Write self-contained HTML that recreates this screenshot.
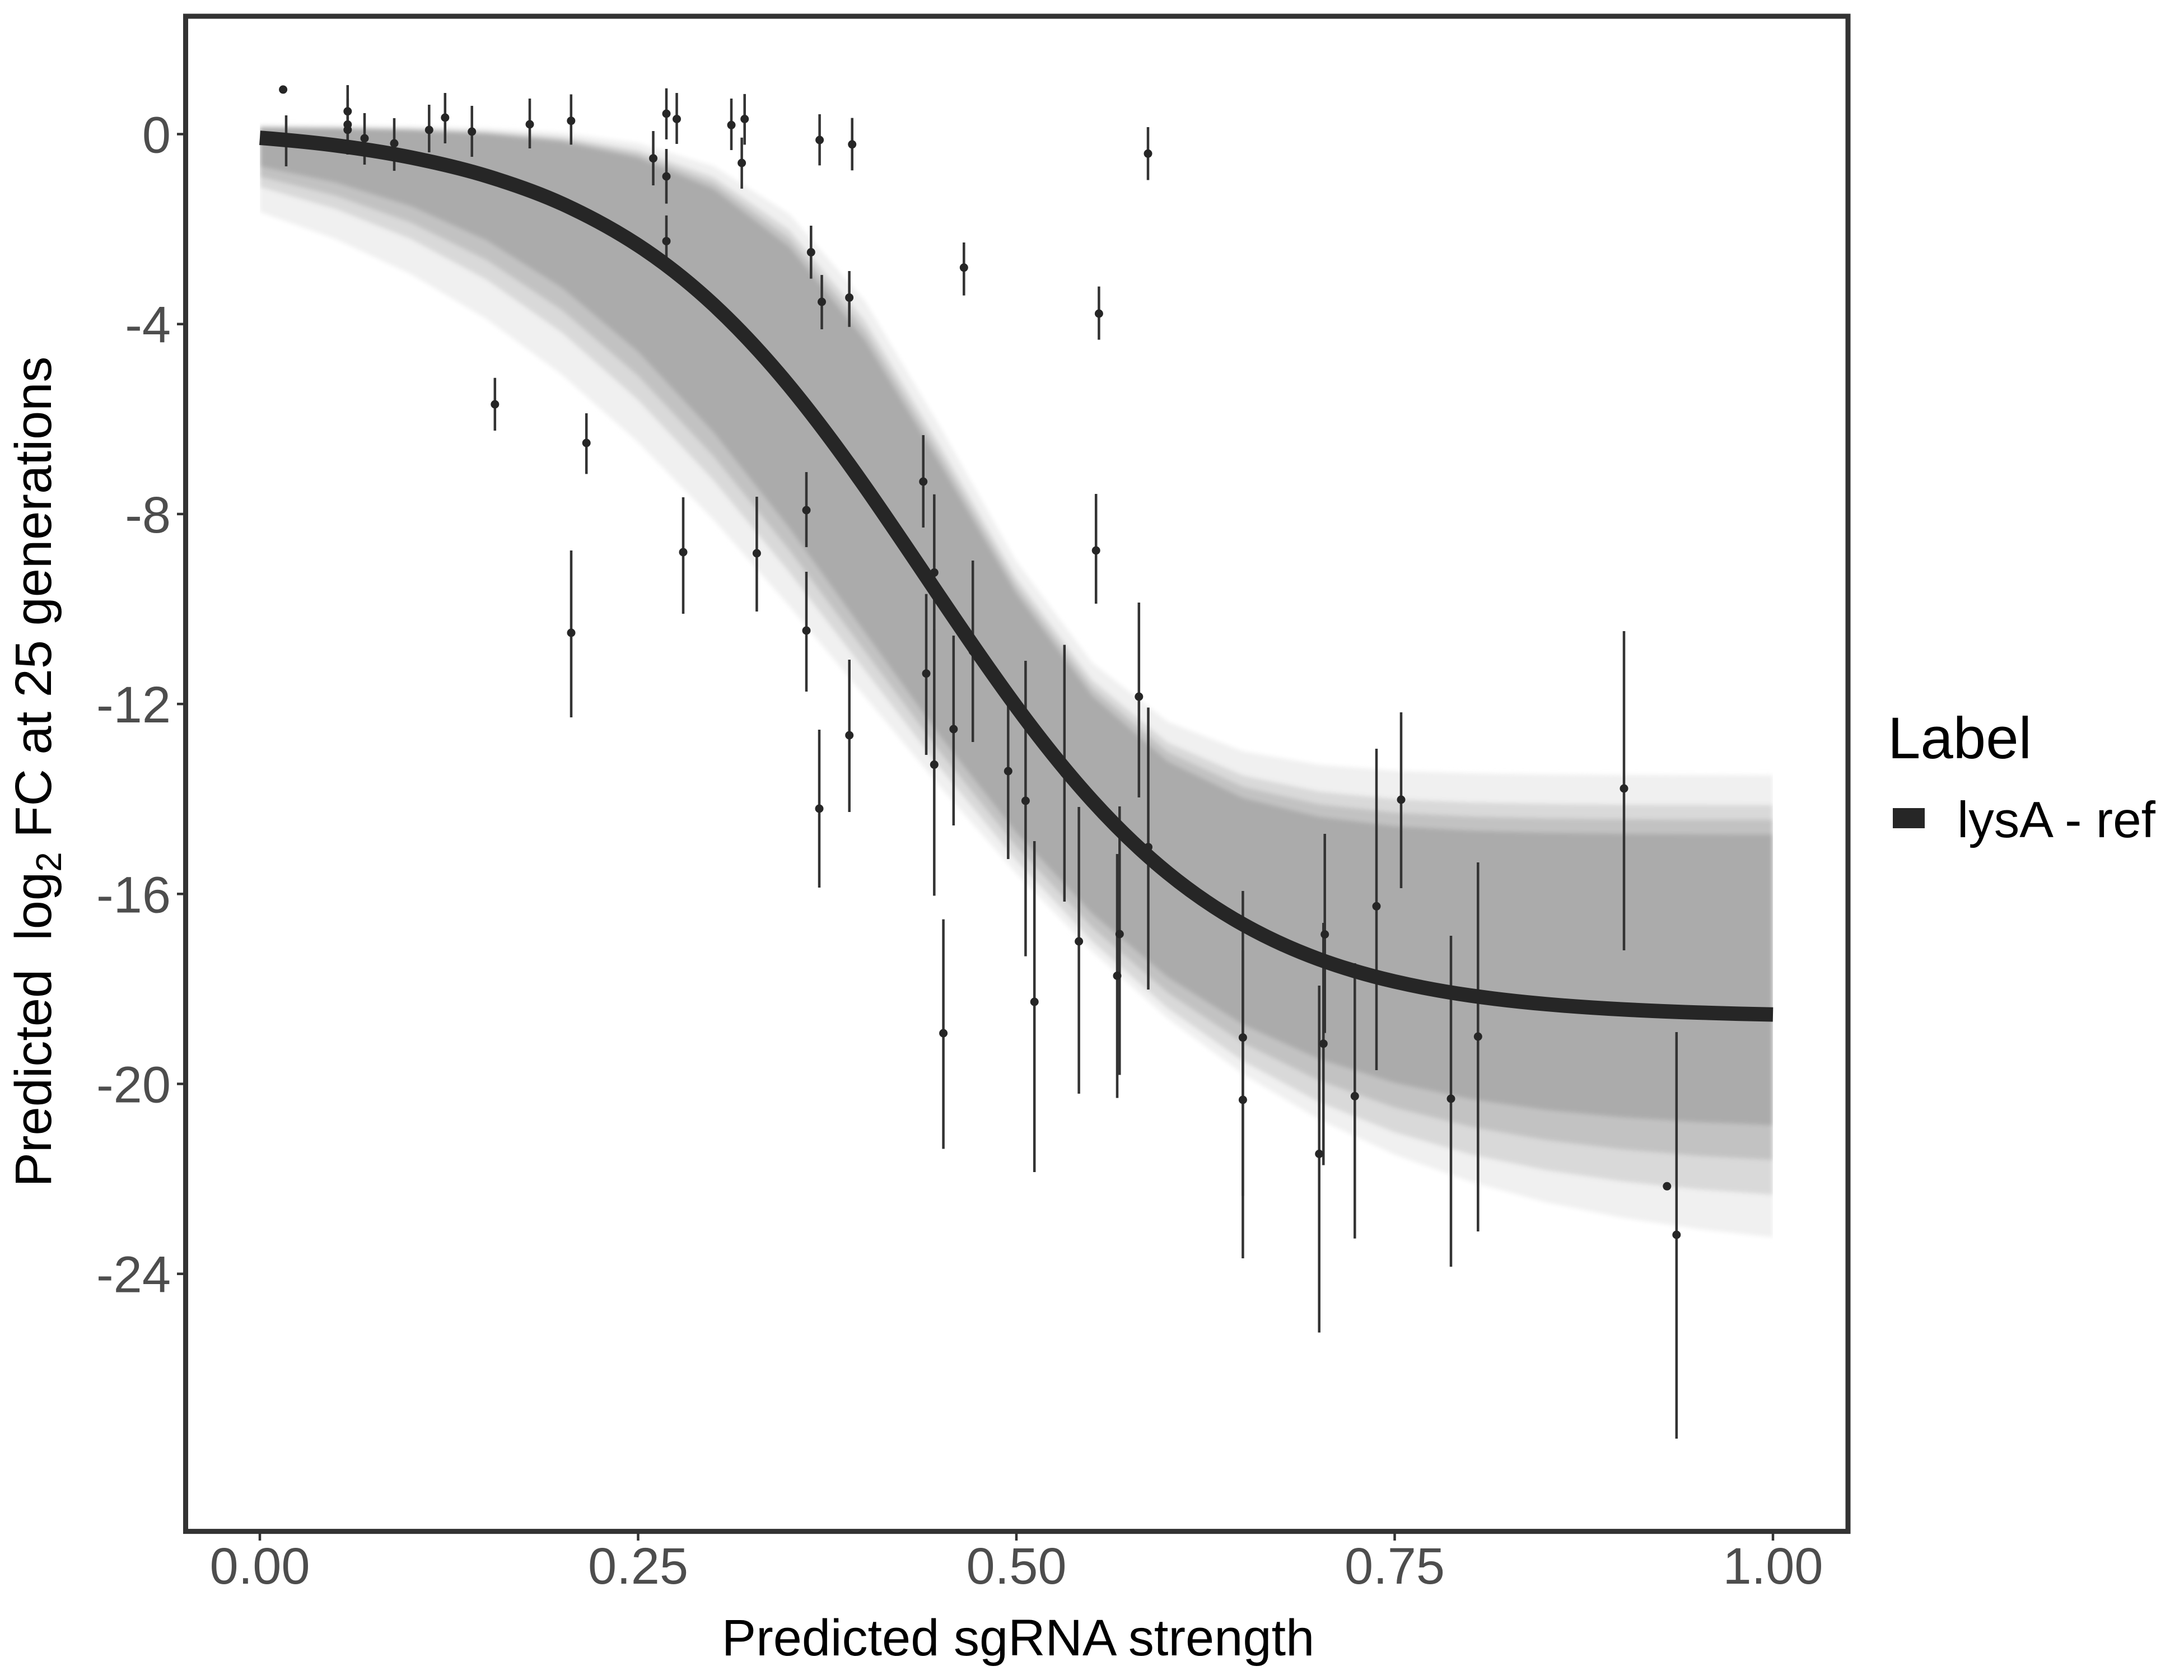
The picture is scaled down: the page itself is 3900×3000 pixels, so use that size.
<!DOCTYPE html>
<html>
<head>
<meta charset="utf-8">
<style>
  html, body { margin: 0; padding: 0; background: #ffffff; }
  svg { display: block; }
  text { font-family: "Liberation Sans", Arial, sans-serif; }
</style>
</head>
<body>
<svg width="3900" height="3000" viewBox="0 0 3900 3000" xmlns="http://www.w3.org/2000/svg">
  <defs>
    <clipPath id="clipX">
      <rect x="464" y="0" width="2702" height="3000"/>
    </clipPath>
    <filter id="soft" x="-5%" y="-5%" width="110%" height="110%">
      <feGaussianBlur stdDeviation="4"/>
    </filter>
  </defs>
  <rect x="0" y="0" width="3900" height="3000" fill="#ffffff"/>

  <g clip-path="url(#clipX)">
    <g filter="url(#soft)" transform="matrix(0.99448,0,0,0.99181,1.57,5.43)">
      <path fill="#F0F0F0" d="M465,219.4 L600.9,220.0 L736.7,221.6 L872.6,225.1 L1008.4,233.3 L1144.3,252.1 L1280.1,293.6 L1416,380.1 L1551.8,537.1 L1687.7,764.9 L1823.5,1005.2 L1959.4,1187.5 L2095.2,1294.1 L2231.1,1347.2 L2366.9,1371.4 L2502.8,1382.1 L2638.6,1386.7 L2774.5,1388.8 L2910.3,1389.6 L3046.2,1390.0 L3182,1390.2 L3182,2222.1 L3046.2,2207.2 L2910.3,2186.7 L2774.5,2159.2 L2638.6,2122.2 L2502.8,2073.4 L2366.9,2010.0 L2231.1,1929.0 L2095.2,1828.3 L1959.4,1707.3 L1823.5,1567.3 L1687.7,1412.4 L1551.8,1249.2 L1416,1086.1 L1280.1,931.0 L1144.3,791.1 L1008.4,670.0 L872.6,569.3 L736.7,488.3 L600.9,424.9 L465,376.1 Z"/>
      <path fill="#D9D9D9" d="M465,222.3 L600.9,223.3 L736.7,225.5 L872.6,230.4 L1008.4,241.2 L1144.3,264.5 L1280.1,313.2 L1416,408.5 L1551.8,571.8 L1687.7,798.6 L1823.5,1035.1 L1959.4,1218.9 L2095.2,1331.5 L2231.1,1390.8 L2366.9,1419.6 L2502.8,1433.0 L2638.6,1439.1 L2774.5,1441.8 L2910.3,1443.1 L3046.2,1443.7 L3182,1443.9 L3182,2145.8 L3046.2,2135.8 L2910.3,2121.7 L2774.5,2101.5 L2638.6,2073.1 L2502.8,2033.5 L2366.9,1978.9 L2231.1,1905.6 L2095.2,1810.0 L1959.4,1689.3 L1823.5,1544.1 L1687.7,1378.9 L1551.8,1202.2 L1416,1025.4 L1280.1,860.1 L1144.3,715.0 L1008.4,594.2 L872.6,498.5 L736.7,425.3 L600.9,370.8 L465,331.2 Z"/>
      <path fill="#C2C2C2" d="M465,223.4 L600.9,224.7 L736.7,227.4 L872.6,233.2 L1008.4,245.6 L1144.3,271.6 L1280.1,324.2 L1416,423.8 L1551.8,589.5 L1687.7,815.1 L1823.5,1049.1 L1959.4,1233.1 L2095.2,1348.5 L2231.1,1411.1 L2366.9,1442.4 L2502.8,1457.4 L2638.6,1464.5 L2774.5,1467.8 L2910.3,1469.3 L3046.2,1470.1 L3182,1470.4 L3182,2083.2 L3046.2,2075.4 L2910.3,2064.0 L2774.5,2047.4 L2638.6,2023.3 L2502.8,1988.9 L2366.9,1940.2 L2231.1,1872.8 L2095.2,1782.1 L1959.4,1664.4 L1823.5,1519.0 L1687.7,1350.3 L1551.8,1168.0 L1416,985.6 L1280.1,816.8 L1144.3,671.6 L1008.4,553.8 L872.6,463.1 L736.7,395.7 L600.9,347.0 L465,312.6 Z"/>
      <path fill="#ABABAB" d="M465,224.5 L600.9,226.1 L736.7,229.2 L872.6,236.0 L1008.4,250.0 L1144.3,278.6 L1280.1,335.1 L1416,439.0 L1551.8,607.2 L1687.7,831.5 L1823.5,1063.0 L1959.4,1247.2 L2095.2,1365.5 L2231.1,1431.3 L2366.9,1465.1 L2502.8,1481.8 L2638.6,1489.9 L2774.5,1493.7 L2910.3,1495.5 L3046.2,1496.4 L3182,1496.8 L3182,2020.6 L3046.2,2014.9 L2910.3,2006.3 L2774.5,1993.2 L2638.6,1973.5 L2502.8,1944.3 L2366.9,1901.4 L2231.1,1839.9 L2095.2,1754.1 L1959.4,1639.4 L1823.5,1493.9 L1687.7,1321.7 L1551.8,1133.8 L1416,945.8 L1280.1,773.5 L1144.3,628.1 L1008.4,513.4 L872.6,427.6 L736.7,366.0 L600.9,323.2 L465,294.0 Z"/>
    </g>
  </g>

  <g stroke="#333333" stroke-width="4.5" fill="none">
    <line x1="511" y1="206" x2="511" y2="297"/>
    <line x1="620.8" y1="152" x2="620.8" y2="245"/>
    <line x1="620.8" y1="176" x2="620.8" y2="268"/>
    <line x1="620.8" y1="185" x2="620.8" y2="276"/>
    <line x1="651" y1="202" x2="651" y2="294"/>
    <line x1="704" y1="211" x2="704" y2="305"/>
    <line x1="766.3" y1="187" x2="766.3" y2="272"/>
    <line x1="794.8" y1="166" x2="794.8" y2="256"/>
    <line x1="842.7" y1="189" x2="842.7" y2="280"/>
    <line x1="946" y1="176" x2="946" y2="265"/>
    <line x1="1019.8" y1="168.5" x2="1019.8" y2="258.4"/>
    <line x1="1166.5" y1="234" x2="1166.5" y2="331"/>
    <line x1="1190" y1="157.7" x2="1190" y2="248.9"/>
    <line x1="1190" y1="266" x2="1190" y2="363.6"/>
    <line x1="1190" y1="384.7" x2="1190" y2="478.4"/>
    <line x1="1208.5" y1="166" x2="1208.5" y2="257"/>
    <line x1="1306" y1="176" x2="1306" y2="268"/>
    <line x1="1329.7" y1="167.9" x2="1329.7" y2="258.4"/>
    <line x1="1324.6" y1="245.7" x2="1324.6" y2="336.9"/>
    <line x1="1463.6" y1="204" x2="1463.6" y2="295.4"/>
    <line x1="1521.7" y1="210.6" x2="1521.7" y2="304.3"/>
    <line x1="1448.3" y1="403" x2="1448.3" y2="497.6"/>
    <line x1="1467.5" y1="491" x2="1467.5" y2="588"/>
    <line x1="1516.6" y1="484" x2="1516.6" y2="583.7"/>
    <line x1="1721.3" y1="433" x2="1721.3" y2="527.6"/>
    <line x1="1962.4" y1="511.6" x2="1962.4" y2="606.6"/>
    <line x1="2050" y1="227" x2="2050" y2="321.5"/>
    <line x1="883.8" y1="674.7" x2="883.8" y2="769"/>
    <line x1="1047.2" y1="738" x2="1047.2" y2="846.4"/>
    <line x1="1020" y1="983" x2="1020" y2="1281"/>
    <line x1="1220" y1="888" x2="1220" y2="1096"/>
    <line x1="1351.4" y1="887" x2="1351.4" y2="1092"/>
    <line x1="1440" y1="843" x2="1440" y2="977"/>
    <line x1="1440" y1="1021" x2="1440" y2="1235"/>
    <line x1="1463" y1="1303" x2="1463" y2="1585"/>
    <line x1="1516.7" y1="1178" x2="1516.7" y2="1450"/>
    <line x1="1648.7" y1="777" x2="1648.7" y2="942"/>
    <line x1="1668.3" y1="882.7" x2="1668.3" y2="1161"/>
    <line x1="1668.3" y1="1123" x2="1668.3" y2="1599.5"/>
    <line x1="1654" y1="1060.7" x2="1654" y2="1348"/>
    <line x1="1702.8" y1="1135" x2="1702.8" y2="1474"/>
    <line x1="1737.2" y1="1001" x2="1737.2" y2="1325"/>
    <line x1="1800.3" y1="1223" x2="1800.3" y2="1534"/>
    <line x1="1831.4" y1="1180" x2="1831.4" y2="1707.6"/>
    <line x1="1847.2" y1="1502" x2="1847.2" y2="2093"/>
    <line x1="1900.8" y1="1151.5" x2="1900.8" y2="1610"/>
    <line x1="1926.6" y1="1441" x2="1926.6" y2="1953"/>
    <line x1="1957.2" y1="882" x2="1957.2" y2="1078"/>
    <line x1="1999.3" y1="1440" x2="1999.3" y2="1919.5"/>
    <line x1="1995" y1="1525" x2="1995" y2="1960.6"/>
    <line x1="2033.8" y1="1076" x2="2033.8" y2="1424"/>
    <line x1="2050.5" y1="1263.5" x2="2050.5" y2="1767"/>
    <line x1="1684.6" y1="1641.6" x2="1684.6" y2="2051.5"/>
    <line x1="2219.4" y1="1591" x2="2219.4" y2="2135.6"/>
    <line x1="2219.4" y1="1697" x2="2219.4" y2="2247"/>
    <line x1="2355.7" y1="1760" x2="2355.7" y2="2379.5"/>
    <line x1="2363.3" y1="1648" x2="2363.3" y2="2080.6"/>
    <line x1="2365.7" y1="1489" x2="2365.7" y2="1844.6"/>
    <line x1="2419.3" y1="1720" x2="2419.3" y2="2211.6"/>
    <line x1="2458" y1="1337" x2="2458" y2="1911"/>
    <line x1="2502" y1="1272" x2="2502" y2="1586"/>
    <line x1="2591" y1="1671" x2="2591" y2="2262"/>
    <line x1="2639.3" y1="1540" x2="2639.3" y2="2199"/>
    <line x1="2900" y1="1127" x2="2900" y2="1697"/>
    <line x1="2993.8" y1="1843" x2="2993.8" y2="2569"/>
  </g>

  <g fill="#262626">
    <circle cx="505.6" cy="159.9" r="7.5"/>
    <circle cx="511" cy="251" r="7.5"/>
    <circle cx="620.8" cy="198.8" r="7.5"/>
    <circle cx="620.8" cy="222.4" r="7.5"/>
    <circle cx="620.8" cy="231.8" r="7.5"/>
    <circle cx="651" cy="247" r="7.5"/>
    <circle cx="704" cy="256" r="7.5"/>
    <circle cx="766.3" cy="232" r="7.5"/>
    <circle cx="794.8" cy="210" r="7.5"/>
    <circle cx="842.7" cy="235" r="7.5"/>
    <circle cx="946" cy="222" r="7.5"/>
    <circle cx="1019.8" cy="215.7" r="7.5"/>
    <circle cx="1166.5" cy="282.7" r="7.5"/>
    <circle cx="1190" cy="203" r="7.5"/>
    <circle cx="1190" cy="315" r="7.5"/>
    <circle cx="1190" cy="430.6" r="7.5"/>
    <circle cx="1208.5" cy="212.5" r="7.5"/>
    <circle cx="1306" cy="223.3" r="7.5"/>
    <circle cx="1329.7" cy="212.5" r="7.5"/>
    <circle cx="1324.6" cy="291" r="7.5"/>
    <circle cx="1463.6" cy="250" r="7.5"/>
    <circle cx="1521.7" cy="257.8" r="7.5"/>
    <circle cx="1448.3" cy="450.4" r="7.5"/>
    <circle cx="1467.5" cy="539" r="7.5"/>
    <circle cx="1516.6" cy="531.4" r="7.5"/>
    <circle cx="1721.3" cy="477.8" r="7.5"/>
    <circle cx="1962.4" cy="560" r="7.5"/>
    <circle cx="2050" cy="274.3" r="7.5"/>
    <circle cx="883.8" cy="722" r="7.5"/>
    <circle cx="1047.2" cy="791" r="7.5"/>
    <circle cx="1020" cy="1130" r="7.5"/>
    <circle cx="1220" cy="986" r="7.5"/>
    <circle cx="1351.4" cy="988" r="7.5"/>
    <circle cx="1440" cy="911" r="7.5"/>
    <circle cx="1440" cy="1126" r="7.5"/>
    <circle cx="1463" cy="1444" r="7.5"/>
    <circle cx="1516.7" cy="1313" r="7.5"/>
    <circle cx="1648.7" cy="860" r="7.5"/>
    <circle cx="1668.3" cy="1022.4" r="7.5"/>
    <circle cx="1668.3" cy="1365.4" r="7.5"/>
    <circle cx="1654" cy="1202.7" r="7.5"/>
    <circle cx="1702.8" cy="1302" r="7.5"/>
    <circle cx="1737.2" cy="1163" r="7.5"/>
    <circle cx="1800.3" cy="1377" r="7.5"/>
    <circle cx="1831.4" cy="1430" r="7.5"/>
    <circle cx="1847.2" cy="1789" r="7.5"/>
    <circle cx="1900.8" cy="1381" r="7.5"/>
    <circle cx="1926.6" cy="1681" r="7.5"/>
    <circle cx="1957.2" cy="983" r="7.5"/>
    <circle cx="1999.3" cy="1668" r="7.5"/>
    <circle cx="1995" cy="1742.5" r="7.5"/>
    <circle cx="2033.8" cy="1244" r="7.5"/>
    <circle cx="2050.5" cy="1512.7" r="7.5"/>
    <circle cx="1684.6" cy="1845" r="7.5"/>
    <circle cx="2219.4" cy="1852.7" r="7.5"/>
    <circle cx="2219.4" cy="1964" r="7.5"/>
    <circle cx="2355.7" cy="2060.5" r="7.5"/>
    <circle cx="2363.3" cy="1863.7" r="7.5"/>
    <circle cx="2365.7" cy="1668.5" r="7.5"/>
    <circle cx="2419.3" cy="1957.4" r="7.5"/>
    <circle cx="2458" cy="1618.3" r="7.5"/>
    <circle cx="2502" cy="1428" r="7.5"/>
    <circle cx="2591" cy="1962" r="7.5"/>
    <circle cx="2639.3" cy="1851" r="7.5"/>
    <circle cx="2900" cy="1408" r="7.5"/>
    <circle cx="2976.8" cy="2118.3" r="7.5"/>
    <circle cx="2993.8" cy="2205" r="7.5"/>
  </g>

  <g transform="matrix(0.99448,0,0,0.99181,1.57,5.43)">
    <path fill="none" stroke="#262626" stroke-width="26" stroke-linecap="butt" stroke-linejoin="round"
      d="M465,242.7 C510.3,246.2 555.6,250.3 600.9,256.2 S691.4,268.9 736.7,278.1 S827.3,297.6 872.6,311.5 S963.1,340.8 1008.4,361.6 S1099,406.5 1144.3,436.2 S1234.8,501.4 1280.1,543.6 S1370.7,634.8 1416,689.9 S1506.5,806.3 1551.8,871.1 S1642.4,1004.3 1687.7,1071.7 S1778.2,1205.5 1823.5,1267.1 S1914.1,1385.6 1959.4,1435.7 S2049.9,1529.2 2095.2,1566.2 S2185.8,1633.8 2231.1,1659.2 S2321.6,1705 2366.9,1721.6 S2457.5,1751.2 2502.8,1761.7 S2593.3,1780.4 2638.6,1786.9 S2729.2,1798.4 2774.5,1802.4 S2865,1809.4 2910.3,1811.8 S3000.9,1816.1 3046.2,1817.6 S3136.7,1820.2 3182,1821.1"/>
  </g>

  <rect x="331.5" y="29" width="2968.5" height="2705.6" fill="none" stroke="#333333" stroke-width="9"/>

  <g stroke="#333333" stroke-width="4.5">
    <line x1="316" y1="239.5" x2="327" y2="239.5"/>
    <line x1="316" y1="578.7" x2="327" y2="578.7"/>
    <line x1="316" y1="917.9" x2="327" y2="917.9"/>
    <line x1="316" y1="1257.1" x2="327" y2="1257.1"/>
    <line x1="316" y1="1596.3" x2="327" y2="1596.3"/>
    <line x1="316" y1="1935.5" x2="327" y2="1935.5"/>
    <line x1="316" y1="2274.7" x2="327" y2="2274.7"/>
    <line x1="464" y1="2739" x2="464" y2="2751"/>
    <line x1="1139.5" y1="2739" x2="1139.5" y2="2751"/>
    <line x1="1815" y1="2739" x2="1815" y2="2751"/>
    <line x1="2490.5" y1="2739" x2="2490.5" y2="2751"/>
    <line x1="3166" y1="2739" x2="3166" y2="2751"/>
  </g>

  <g fill="#4D4D4D" font-size="92" text-anchor="end">
    <text x="305" y="272.5">0</text>
    <text x="305" y="611.7">-4</text>
    <text x="305" y="950.9">-8</text>
    <text x="305" y="1290.1">-12</text>
    <text x="305" y="1629.3">-16</text>
    <text x="305" y="1968.5">-20</text>
    <text x="305" y="2307.7">-24</text>
  </g>
  <g fill="#4D4D4D" font-size="92" text-anchor="middle">
    <text x="464" y="2828">0.00</text>
    <text x="1139.5" y="2828">0.25</text>
    <text x="1815" y="2828">0.50</text>
    <text x="2490.5" y="2828">0.75</text>
    <text x="3166" y="2828">1.00</text>
  </g>

  <text x="1818" y="2956" font-size="92" fill="#000000" text-anchor="middle">Predicted sgRNA strength</text>
  <text transform="translate(91,1378) rotate(-90)" font-size="92" fill="#000000" text-anchor="middle" style="white-space:pre" xml:space="preserve"><tspan>Predicted  log</tspan><tspan dy="18" font-size="64">2</tspan><tspan dy="-18"> FC at 25 generations</tspan></text>

  <text x="3371" y="1354" font-size="105" fill="#000000">Label</text>
  <rect x="3380" y="1443" width="57" height="36" fill="#262626"/>
  <text x="3495" y="1495" font-size="91" fill="#000000">lysA - ref</text>
</svg>
</body>
</html>
